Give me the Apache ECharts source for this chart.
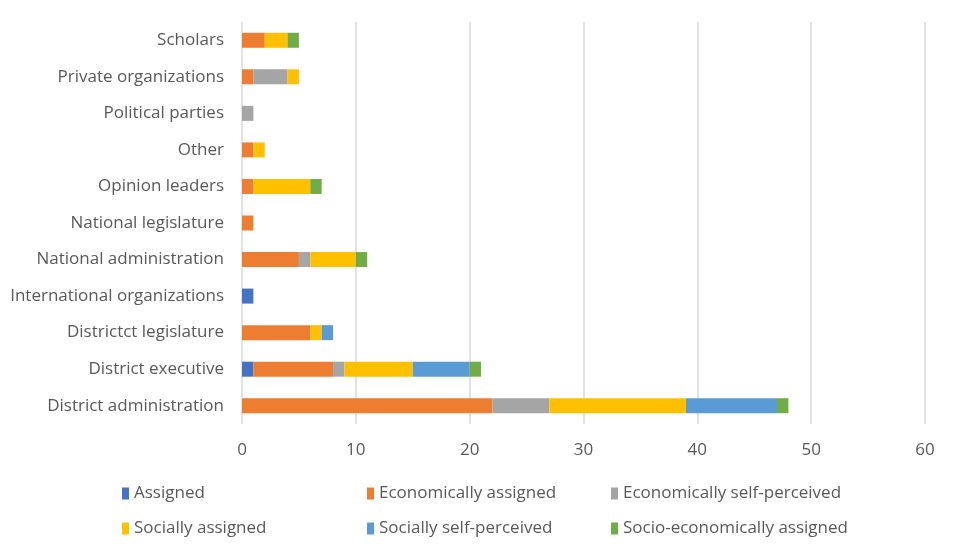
<!DOCTYPE html>
<html>
<head>
<meta charset="utf-8">
<script src="https://cdn.jsdelivr.net/npm/echarts@6/dist/echarts.min.js"></script>
<style>
  html, body { margin: 0; padding: 0; background: #fff; }
  #chart { width: 953px; height: 553px; }
</style>
</head>
<body>
<div id="chart"></div>
<script>
// categories, bottom to top
const categories = [
  'District administration', 'District executive', 'Districtct legislature',
  'International organizations', 'National administration', 'National legislature',
  'Opinion leaders', 'Other', 'Political parties', 'Private organizations', 'Scholars'
]
const seriesNames = [
  'Assigned', 'Economically assigned', 'Economically self-perceived',
  'Socially assigned', 'Socially self-perceived', 'Socio-economically assigned'
]
const assigned = [0, 1, 0, 1, 0, 0, 0, 0, 0, 0, 0]
const econAssigned = [22, 7, 6, 0, 5, 1, 1, 1, 0, 1, 2]
const econSelf = [5, 1, 0, 0, 1, 0, 0, 0, 1, 3, 0]
const socAssigned = [12, 6, 1, 0, 4, 0, 5, 1, 0, 1, 2]
const socSelf = [8, 5, 1, 0, 0, 0, 0, 0, 0, 0, 0]
const socioEcon = [1, 1, 0, 0, 1, 0, 1, 0, 0, 0, 1]
const xTicks = [0, 10, 20, 30, 40, 50, 60]

const values = [assigned, econAssigned, econSelf, socAssigned, socSelf, socioEcon]
const colors = ['#4472C4', '#ED7D31', '#A5A5A5', '#FFC000', '#5B9BD5', '#70AD47']
const font = 'Open Sans'
const textColor = '#595959'

const chart = echarts.init(document.getElementById('chart'))

const legendCol = (names, left) => ({
  data: names,
  orient: 'vertical',
  left: left,
  top: 480,
  itemGap: 18,
  itemWidth: 7,
  itemHeight: 12,
  itemStyle: { borderWidth: 0 },
  icon: 'rect',
  selectedMode: false,
  textStyle: { color: textColor, fontSize: 17, fontFamily: font }
})

chart.setOption({
  animation: false,
  color: colors,
  grid: { left: 242, right: 28, top: 22, bottom: 129 },
  legend: [
    legendCol([seriesNames[0], seriesNames[3]], 117),
    legendCol([seriesNames[1], seriesNames[4]], 362),
    legendCol([seriesNames[2], seriesNames[5]], 606)
  ],
  xAxis: {
    type: 'value',
    min: xTicks[0],
    max: xTicks[xTicks.length - 1],
    interval: 10,
    axisLine: { show: false },
    axisTick: { show: false },
    splitLine: { lineStyle: { color: '#D9D9D9', width: 1.5 } },
    axisLabel: { color: textColor, fontSize: 17, fontFamily: font, margin: 18 }
  },
  yAxis: {
    type: 'category',
    data: categories,
    axisLine: { show: false },
    axisTick: { show: false },
    axisLabel: { color: textColor, fontSize: 17, fontFamily: font, margin: 18 }
  },
  series: seriesNames.map((name, i) => ({
    name: name,
    type: 'bar',
    stack: 'total',
    barWidth: 15,
    data: values[i]
  }))
})
</script>
</body>
</html>
